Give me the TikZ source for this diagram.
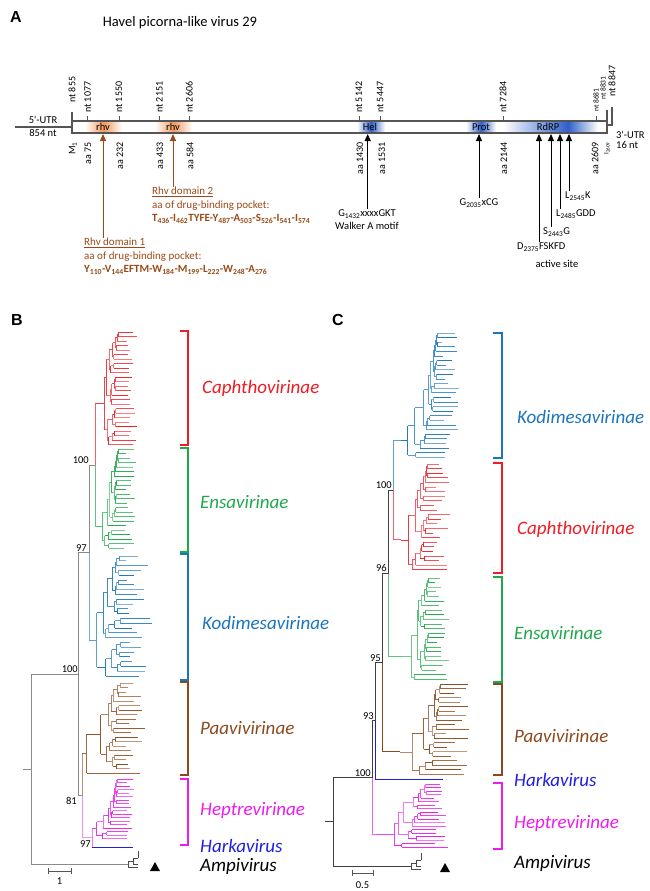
\documentclass[tikz,border=0pt]{standalone}
\usepackage{fontspec}
\setmainfont{Carlito}
\newfontfamily\panelfont{Liberation Sans}
\usetikzlibrary{positioning,arrows.meta}
\definecolor{RhvBrown}{HTML}{9A4A17}
\definecolor{RhvOrange}{HTML}{F29A5C}
\definecolor{DomBlue}{HTML}{2F5FC8}
\definecolor{CapRed}{HTML}{EE1C24}
\definecolor{EnsGreen}{HTML}{1FA84B}
\definecolor{KodBlue}{HTML}{1C75BC}
\definecolor{PaaBrown}{HTML}{8B4A1E}
\definecolor{HepMag}{HTML}{EC1CEC}
\definecolor{HarBlue}{HTML}{1E1EE0}
\definecolor{TreeGrey}{HTML}{8A8A8A}
\definecolor{BarGrey}{HTML}{555555}

\newcommand\aasub[1]{\textsubscript{#1}}

% random ladderised subtree: parent x, first tip y, number of tips
\newcommand\clade[3]{%
  \begingroup
  \edef\cPx{#1}\edef\cPy{#2}\edef\cN{#3}%
  \pgfmathtruncatemacro\cShade{55+45*rnd}%
  \ifnum\cN=1\relax
    \pgfmathsetmacro\cTip{max(\cPx+4+5*rnd,\tipx+(2*rnd-1)*\tipj)}%
    \draw[branch,draw=\clr!\cShade] (\cPx,\cPy) -- (\cTip,\cPy);%
    \xdef\cladeY{\cPy}%
  \else
    \pgfmathsetmacro\cX{\cPx+max(1,(\tipx-10-\cPx)*(0.1+0.25*rnd))}%
    \pgfmathtruncatemacro\cSplit{1+(\cN-1)*rnd}%
    \pgfmathtruncatemacro\cSplit{max(\cSplit,\cN-\cSplit)}%
    \pgfmathtruncatemacro\cRest{\cN-\cSplit}%
    \pgfmathsetmacro\cLow{\cPy+\cSplit*\tipsep}%
    \clade{\cX}{\cPy}{\cSplit}\let\cYa\cladeY
    \clade{\cX}{\cLow}{\cRest}\let\cYb\cladeY
    \pgfmathsetmacro\cY{(\cYa+\cYb)/2}%
    \draw[branch,draw=\clr!\cShade] (\cPx,\cY) -- (\cX,\cY) (\cX,\cYa) -- (\cX,\cYb);%
    \xdef\cladeY{\cY}%
  \fi
  \endgroup}

\begin{document}
\begin{tikzpicture}[x=1pt,y=-1pt,
  bar/.style={draw=BarGrey, line width=1.1pt},
  tick/.style={draw=BarGrey, line width=0.9pt},
  ntlbl/.style={rotate=90, anchor=west, font=\fontsize{10}{11}\selectfont, inner sep=1pt},
  aalbl/.style={rotate=90, anchor=east, font=\fontsize{10}{11}\selectfont, inner sep=1pt},
  lbl/.style={font=\fontsize{10.5}{11}\selectfont, inner sep=1pt},
  bartxt/.style={font=\fontsize{10.5}{11}\selectfont, inner sep=0pt},
  domtxt/.style={font=\fontsize{11}{13.5}\selectfont, text=RhvBrown, align=left, inner sep=0pt},
  motif/.style={font=\fontsize{10.5}{13}\selectfont, align=center, inner sep=1pt},
  arr/.style={-{Triangle[length=7pt,width=6pt]}, line width=1pt},
  rhvarr/.style={arr, draw=RhvBrown, fill=RhvBrown},
  panel/.style={font=\panelfont\bfseries\fontsize{16}{16}\selectfont, inner sep=0pt},
  taxon/.style={font=\fontsize{19}{20}\selectfont\itshape, anchor=west, inner sep=0pt},
  boot/.style={font=\fontsize{10.5}{11}\selectfont, anchor=south east, inner sep=1pt},
  branch/.style={line width=0.8pt},
  spine/.style={line width=1pt, draw=TreeGrey},
  spineC/.style={line width=1pt, draw=black!75},
  brack/.style={line width=1.2pt}
]
\useasboundingbox (0,0) rectangle (650,891);
\pgfmathsetseed{11}

%% ---- A: genome map
\node[panel] (pA) at (16,17) {A};
\node[font=\fontsize{14.5}{16}\selectfont] (title) at (180,23) {Havel picorna-like virus 29};

\fill[white] (72,121) rectangle (607,133);
\shade[left color=white, right color=white, middle color=RhvOrange] (85,121.5) rectangle (122,132.5);
\shade[left color=white, right color=white, middle color=RhvOrange] (155,121.5) rectangle (192,132.5);
\shade[left color=white, right color=white, middle color=DomBlue] (357,121.5) rectangle (385,132.5);
\shade[left color=white, right color=white, middle color=DomBlue] (466,121.5) rectangle (496,132.5);
\shade[left color=white, right color=DomBlue] (503,121.5) rectangle (568,132.5);
\shade[left color=DomBlue, right color=white] (568,121.5) rectangle (598,132.5);
\draw[bar] (72,121) rectangle (607,133);
\draw[bar] (15,127) -- (72,127) (72,112) -- (72,121) (607,110) -- (607,121) (607,125) -- (612,125) -- (612,107);

\node[bartxt] (rhv1) at (103,127) {rhv};
\node[bartxt] (rhv2) at (173,127) {rhv};
\node[bartxt] (hel) at (370,127) {Hel};
\node[bartxt] (prot) at (481,127) {Prot};
\node[bartxt] (rdrp) at (548,127) {RdRP};

\node[lbl] (utr5) at (43,120) {5\textquotesingle-UTR};
\node[lbl] (utr5n) at (43,133) {854 nt};
\node[lbl, anchor=west] (utr3) at (615,135) {3\textquotesingle-UTR};
\node[lbl, anchor=west] (utr3n) at (615,145) {16 nt};

\foreach \px/\nt in {87.7/1077, 119/1550, 159.3/2151, 189.3/2606, 359/5142, 380.3/5447, 503/7284} {
  \draw[tick] (\px,116) -- (\px,121);
  \node[ntlbl] (nt\nt) at (\px,114) {nt \nt};
}
\draw[tick] (596,116) -- (596,121);
\node[ntlbl, font=\fontsize{7.5}{8}\selectfont] (nt8681) at (596,113) {nt 8681};
\node[ntlbl, font=\fontsize{7.5}{8}\selectfont] (nt8831) at (603,101) {nt 8831};
\node[ntlbl] (nt855) at (72,104) {nt 855};
\node[ntlbl] (nt8847) at (612,98) {nt 8847};

\foreach \px/\aa in {88/75, 120/232, 160/433, 190/584, 360/1430, 382/1531, 504/2144, 595/2609}
  \node[aalbl] (aa\aa) at (\px,141) {aa \aa};
\node[aalbl] (m1) at (73,141) {M\aasub{1}};
\node[aalbl, font=\fontsize{7}{8}\selectfont] (i2609) at (607,141) {I\aasub{2609}};

% domain and motif notes
\coordinate (rhvAtip) at (103,134);
\coordinate (rhvBtip) at (173,134);
\coordinate (helTip) at (367.7,134);
\coordinate (protTip) at (479,134);
\coordinate (rd1) at (539,134);
\coordinate (rd2) at (551,134);
\coordinate (rd3) at (560,134);
\coordinate (rd4) at (569,134);

\node[domtxt, anchor=north west] (rhvB) at (152,187) {\underline{Rhv domain 2}\\aa of drug-binding pocket:\\
  \bfseries T\aasub{436}-I\aasub{462}TYFE-Y\aasub{487}-A\aasub{503}-S\aasub{526}-I\aasub{541}-I\aasub{574}};
\node[domtxt, anchor=north west] (rhvA) at (84,238) {\underline{Rhv domain 1}\\aa of drug-binding pocket:\\
  \bfseries Y\aasub{110}-V\aasub{144}EFTM-W\aasub{184}-M\aasub{199}-L\aasub{222}-W\aasub{248}-A\aasub{276}};
\node[motif] (helM) at (367,220) {G\aasub{1432}xxxxGKT\\Walker A motif};
\node[motif] (protM) at (479,203) {G\aasub{2035}xCG};
\node[motif, anchor=west] (rdK) at (564,196) {L\aasub{2545}K};
\node[motif, anchor=west] (rdL) at (555,214) {L\aasub{2485}GDD};
\node[motif, anchor=west] (rdS) at (542,232) {S\aasub{2443}G};
\node[motif, anchor=west] (rdD) at (516,247) {D\aasub{2375}FSKFD};
\node[motif] (actsite) at (557,264) {active site};

\draw[rhvarr] (rhvA.north -| rhvAtip) -- (rhvAtip);
\draw[rhvarr] (rhvB.north -| rhvBtip) -- (rhvBtip);
\draw[arr] (helM.north -| helTip) -- (helTip);
\draw[arr] (protM.north -| protTip) -- (protTip);
\draw[arr] (rdD.north -| rd1) -- (rd1);
\draw[arr] (rdS.north -| rd2) -- (rd2);
\draw[arr] (rdL.north -| rd3) -- (rd3);
\draw[arr] (rdK.north -| rd4) -- (rd4);

%% ---- B: tree
\node[panel] (pB) at (17,320) {B};
\def\tipsep{4.5}
\def\clr{CapRed}\def\tipx{132}\def\tipj{6}\clade{95}{332}{26}\let\yCapB\cladeY
\def\clr{EnsGreen}\def\tipx{130}\def\tipj{6}\clade{95}{449}{23}\let\yEnsB\cladeY
\def\tipsep{4.8}\def\clr{KodBlue}\def\tipx{140}\def\tipj{14}\clade{89}{556}{26}\let\yKodB\cladeY
\def\tipsep{4.5}\def\clr{PaaBrown}\def\tipx{136}\def\tipj{10}\clade{82}{683}{21}\let\yPaaB\cladeY
\def\tipsep{3.5}\def\clr{HepMag}\def\tipx{130}\def\tipj{4}\clade{92}{779}{18}\let\yHepB\cladeY

\pgfmathsetmacro\yBc{(\yCapB+\yEnsB)/2}
\pgfmathsetmacro\yBb{(\yBc+\yKodB)/2}
\pgfmathsetmacro\yBe{(\yHepB+847)/2}
\pgfmathsetmacro\yBd{(\yPaaB+\yBe)/2}
\pgfmathsetmacro\yBa{(\yBb+\yBd)/2}
\pgfmathsetmacro\yBr{(\yBa+864)/2}
\draw[spine, draw=CapRed!70] (95,\yCapB) -- (95,\yBc);
\draw[spine, draw=EnsGreen!70] (95,\yBc) -- (95,\yEnsB);
\draw[spine] (89,\yBc) -- (95,\yBc) (89,\yBc) -- (89,\yBb) (78,\yBb) -- (89,\yBb);
\draw[spine, draw=KodBlue!60] (89,\yBb) -- (89,\yKodB);
\draw[spine, draw=HepMag!60] (92,\yHepB) -- (92,847);
\draw[branch, draw=HarBlue] (92,847) -- (133,847);
\draw[spine, draw=PaaBrown!60] (82,\yPaaB) -- (82,\yBd);
\draw[spine, draw=HepMag!50] (82,\yBd) -- (82,\yBe) -- (92,\yBe);
\draw[spine] (78,\yBb) -- (78,\yBd) -- (82,\yBd) (31,\yBa) -- (78,\yBa) (31,\yBa) -- (31,864) -- (128,864) (23,\yBr) -- (31,\yBr);
\begin{scope}[shift={(128,864)}]
  \draw[branch, draw=black!70] (0,-3) -- (0,3) -- (10,3) (0,-3) -- (5,-3) (5,-6) -- (5,0) -- (10,0) (5,-6) -- (10,-6) (10,-13) -- (10,-6);
\end{scope}

\node[boot] (bB1) at (90,\yBc) {100};
\node[boot] (bB2) at (88,\yBb) {97};
\node[boot] (bB3) at (79,\yBa) {100};
\node[boot, anchor=north east] (bB4) at (78,\yBd) {81};
\node[boot] (bB5) at (92,849) {97};

\draw[brack, draw=CapRed] (180,331) -- (188,331) -- (188,445) -- (180,445);
\draw[brack, draw=EnsGreen] (180,448) -- (188,448) -- (188,552) -- (180,552);
\draw[brack, draw=KodBlue] (180,554) -- (188,554) -- (188,680) -- (180,680);
\draw[brack, draw=PaaBrown] (180,682) -- (188,682) -- (188,775) -- (180,775);
\draw[brack, draw=HepMag] (180,779) -- (188,779) -- (188,845) -- (180,845);
\node[taxon, text=CapRed] (capB) at (202,388) {Caphthovirinae};
\node[taxon, text=EnsGreen] (ensB) at (200,502) {Ensavirinae};
\node[taxon, text=KodBlue] (kodB) at (202,623) {Kodimesavirinae};
\node[taxon, text=PaaBrown] (paaB) at (200,728) {Paavivirinae};
\node[taxon, text=HepMag] (hepB) at (200,810) {Heptrevirinae};
\node[taxon, text=HarBlue] (harB) at (200,846) {Harkavirus};
\node[taxon] (ampB) at (200,866) {Ampivirus};
\fill (150,871) -- (160,871) -- (155,862) -- cycle;
\draw[line width=0.9pt, draw=BarGrey] (48,871) -- (71,871) (48,868) -- (48,874) (71,868) -- (71,874);
\node[lbl] (sbB) at (59.5,881) {1};

%% ---- C: tree
\node[panel] (pC) at (338,320) {C};
\def\tipsep{4.6}
\def\clr{KodBlue}\def\tipx{450}\def\tipj{10}\clade{401}{333}{28}\let\yKodC\cladeY
\def\clr{CapRed}\def\tipx{442}\def\tipj{9}\clade{401}{464}{24}\let\yCapC\cladeY
\def\clr{EnsGreen}\def\tipx{442}\def\tipj{8}\clade{403}{578}{23}\let\yEnsC\cladeY
\def\tipsep{4.5}\def\clr{PaaBrown}\def\tipx{457}\def\tipj{12}\clade{400}{684}{21}\let\yPaaC\cladeY
\def\tipsep{3.5}\def\clr{HepMag}\def\tipx{442}\def\tipj{8}\clade{377}{784}{19}\let\yHepC\cladeY

\pgfmathsetmacro\yCb{(\yKodC+\yCapC)/2}
\pgfmathsetmacro\yCc{(\yCb+\yEnsC)/2}
\pgfmathsetmacro\yCd{(\yCc+\yPaaC)/2}
\pgfmathsetmacro\yCe{(\yCd+779)/2}
\pgfmathsetmacro\yCf{(\yCe+\yHepC)/2}
\pgfmathsetmacro\yCr{(\yCf+866)/2}
\draw[spine, draw=KodBlue!70] (401,\yKodC) -- (393,\yKodC) -- (393,\yCb);
\draw[spine, draw=CapRed!70] (393,\yCb) -- (393,\yCapC) -- (401,\yCapC);
\draw[spine, draw=EnsGreen!70] (388,\yCc) -- (388,\yEnsC) -- (403,\yEnsC);
\draw[spine, draw=PaaBrown] (382,\yCd) -- (382,\yPaaC) -- (400,\yPaaC);
\draw[spine, draw=HarBlue] (375,\yCe) -- (375,779) -- (443,779);
\draw[spine, draw=HepMag!70] (372,\yCf) -- (372,\yHepC) -- (377,\yHepC);
\draw[spineC] (388,\yCb) -- (393,\yCb) (388,\yCb) -- (388,\yCc) -- (382,\yCc) -- (382,\yCd) -- (375,\yCd) -- (375,\yCe) -- (372,\yCe) -- (372,\yCf) -- (333,\yCf) -- (333,866) -- (411,866) (325,\yCr) -- (333,\yCr);
\begin{scope}[shift={(411,866)}]
  \draw[branch, draw=black!70] (0,-3) -- (0,3) -- (10,3) (0,-3) -- (5,-3) (5,-6) -- (5,0) -- (10,0) (5,-6) -- (10,-6) (10,-13) -- (10,-6);
\end{scope}

\node[boot] (bC1) at (393,\yCb) {100};
\node[boot] (bC2) at (388,\yCc) {96};
\node[boot] (bC3) at (382,\yCd) {95};
\node[boot] (bC4) at (375,\yCe) {93};
\node[boot] (bC5) at (372,\yCf) {100};

\draw[brack, draw=KodBlue] (493,333) -- (502,333) -- (502,458) -- (493,458);
\draw[brack, draw=CapRed] (493,463) -- (502,463) -- (502,573) -- (493,573);
\draw[brack, draw=EnsGreen] (493,577) -- (502,577) -- (502,682) -- (493,682);
\draw[brack, draw=PaaBrown] (493,684) -- (502,684) -- (502,775) -- (493,775);
\draw[brack, draw=HepMag] (493,783) -- (502,783) -- (502,849) -- (493,849);
\node[taxon, text=KodBlue] (kodC) at (517,417) {Kodimesavirinae};
\node[taxon, text=CapRed] (capC) at (517,529) {Caphthovirinae};
\node[taxon, text=EnsGreen] (ensC) at (514,633) {Ensavirinae};
\node[taxon, text=PaaBrown] (paaC) at (514,736) {Paavivirinae};
\node[taxon, text=HarBlue] (harC) at (514,780) {Harkavirus};
\node[taxon, text=HepMag] (hepC) at (514,823) {Heptrevirinae};
\node[taxon] (ampC) at (514,863) {Ampivirus};
\fill (440,872) -- (450,872) -- (445,863) -- cycle;
\draw[line width=0.9pt, draw=BarGrey] (352,873) -- (373,873) (352,870) -- (352,876) (373,870) -- (373,876);
\node[lbl] (sbC) at (362.5,885) {0.5};
\end{tikzpicture}
\end{document}
